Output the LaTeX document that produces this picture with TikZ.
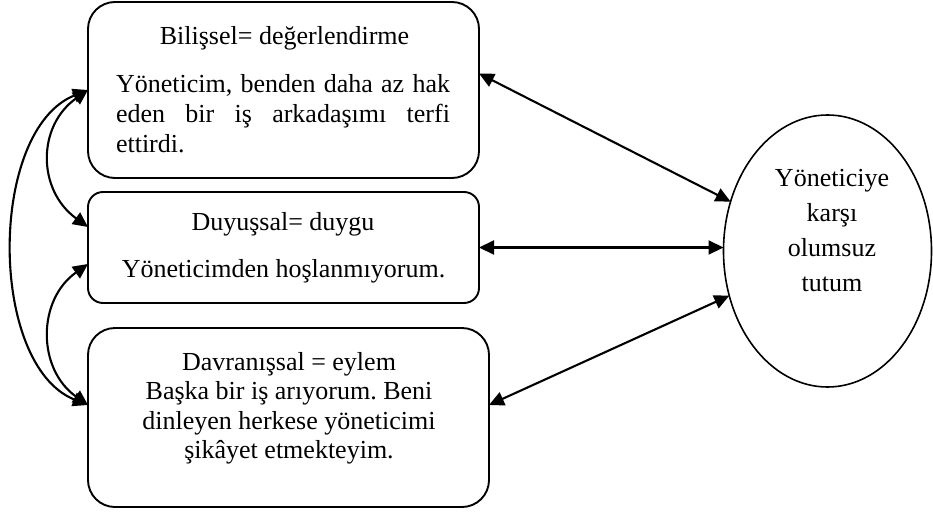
\documentclass[tikz,border=0pt]{standalone}
\usepackage{fontspec}
\setmainfont{Liberation Serif}
\usetikzlibrary{arrows.meta,shapes.geometric,calc}
\newcommand{\stretchspaces}{\spaceskip=0pt\relax\xspaceskip=0pt\relax\frenchspacing}
\newcommand{\naturalspaces}{\spaceskip=\fontdimen2\font\relax\xspaceskip=\fontdimen2\font\relax}
\tikzset{
  card/.style={draw, line width=1.9pt, inner sep=0pt, outer sep=0pt},
  txt/.style={inner sep=0pt, outer sep=0pt, font=\fontsize{26}{30}\selectfont},
  link/.style={line width=2.1pt, {Triangle[length=15pt,width=14pt]}-{Triangle[length=15pt,width=14pt]}},
}
\begin{document}
\begin{tikzpicture}[x=1pt,y=-1pt]
\useasboundingbox (0,0) rectangle (933,511);
% boxes
\node[card, rounded corners=27pt, minimum width=391pt, minimum height=176pt] (b1) at (283.5,90) {};
\node[card, rounded corners=15pt, minimum width=391pt, minimum height=111pt] (b2) at (283.5,247.5) {};
\node[card, rounded corners=27pt, minimum width=401pt, minimum height=179pt] (b3) at (288.5,417.5) {};
\node[card, line width=1.6pt, ellipse, minimum width=208pt, minimum height=272pt] (e) at (827.5,251) {};
% texts
\node[txt, anchor=base] (t1a) at (284.5,45) {Bilişsel= değerlendirme};
\node[txt, anchor=base west, text width=334pt, align=left] (t1b) at (116,92)
  {\stretchspaces\makebox[334pt][s]{Yöneticim, benden daha az hak}\\\makebox[334pt][s]{eden bir iş arkadaşımı terfi}\\ettirdi.};
\node[txt, anchor=base] (t2a) at (283,230) {Duyuşsal= duygu};
\node[txt, anchor=base] (t2b) at (283.5,277) {Yöneticimden hoşlanmıyorum.};
\node[txt, anchor=base, text width=380pt, align=center, font=\fontsize{26}{29.5}\selectfont] (t3) at (289,370)
  {\naturalspaces Davranışsal = eylem\\Başka bir iş arıyorum. Beni\\dinleyen herkese yöneticimi\\şikâyet etmekteyim.};
\node[txt, anchor=base, text width=180pt, align=center, font=\fontsize{26}{35}\selectfont] (et) at (832,186)
  {Yöneticiye\\karşı\\olumsuz\\tutum};
% connector ends
\coordinate (b1r) at ([yshift=16.5pt]b1.east);
\coordinate (b2lu) at ([yshift=20.5pt]b2.west);
\coordinate (b2ll) at ([yshift=-16.5pt]b2.west);
\coordinate (b3l) at ([yshift=12.5pt]b3.west);
\coordinate (b3r) at ([yshift=12.5pt]b3.east);
% right connectors
\draw[link] (b1r) -- (e);
\draw[link] (b2.east) -- (e.west |- b2.east);
\draw[link] (b3r) -- (e);
% left connectors
\draw[link] (b1.west) .. controls ($(b1.west)+(-51,36)$) and ($(b2lu)+(-51,-37)$) .. (b2lu);
\draw[link] (b2ll) .. controls ($(b2ll)+(-51,36)$) and ($(b3l)+(-51,-36)$) .. (b3l);
\draw[link] (b1.west) .. controls ($(b1.west)+(-100,40)$) and ($(b3l)+(-100,-40)$) .. (b3l);
\end{tikzpicture}
\end{document}
